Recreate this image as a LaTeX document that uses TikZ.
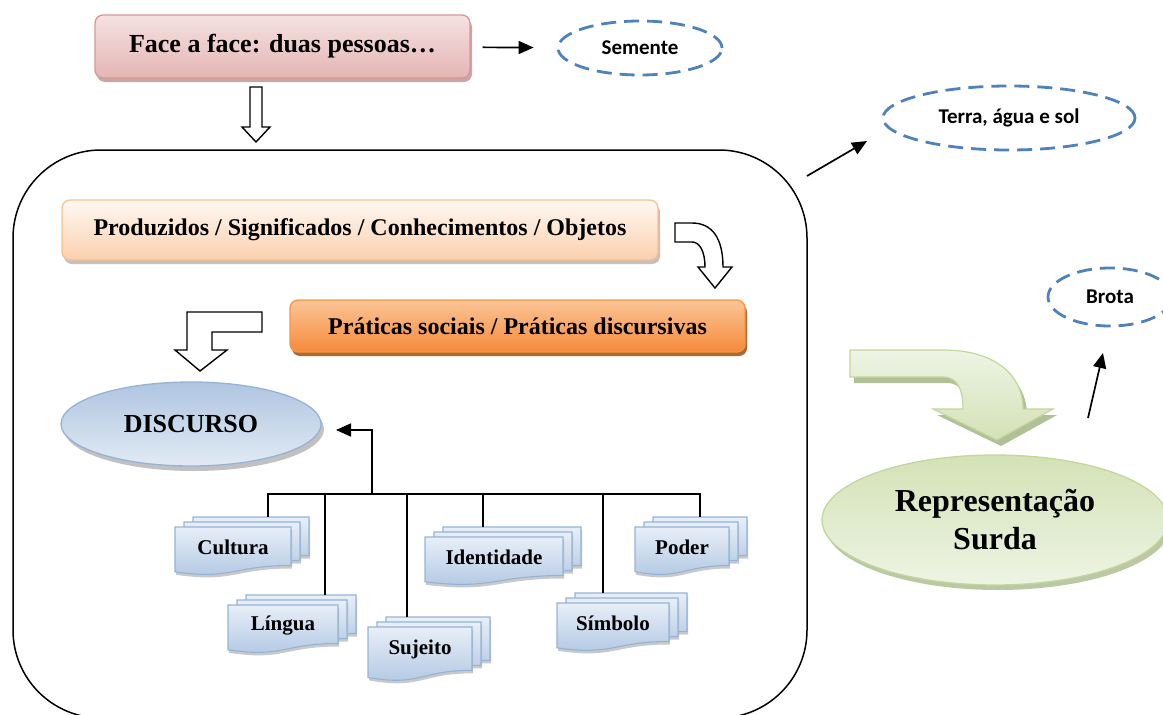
\documentclass[tikz,border=0pt]{standalone}
\usepackage{fontspec}
\setmainfont{Liberation Serif}
\newfontfamily\calib{Carlito}
\usetikzlibrary{shapes.geometric,arrows.meta,shadows}
\definecolor{dashblue}{HTML}{4F81BD}
\definecolor{faceT}{HTML}{F5E2E1}
\definecolor{faceB}{HTML}{E4B5B4}
\definecolor{faceD}{HTML}{D99694}
\definecolor{faceS}{HTML}{B89090}
\definecolor{prodT}{HTML}{FFF8F2}
\definecolor{prodB}{HTML}{FBD0AE}
\definecolor{prodD}{HTML}{FAC090}
\definecolor{pratT}{HTML}{FBC596}
\definecolor{pratB}{HTML}{F58A3A}
\definecolor{pratD}{HTML}{F79646}
\definecolor{pratS}{HTML}{A35A1C}
\definecolor{discT}{HTML}{AFC5E1}
\definecolor{discB}{HTML}{E2EAF4}
\definecolor{discD}{HTML}{95B3D7}
\definecolor{docT}{HTML}{E8EFF8}
\definecolor{docB}{HTML}{AFC6E2}
\definecolor{greenT}{HTML}{EEF4E4}
\definecolor{greenB}{HTML}{D3E2B6}
\definecolor{greenD}{HTML}{C3D69B}
\definecolor{greenS}{HTML}{A9BA8C}

\newcommand\docpage[4]{%
  \pgfmathsetmacro\dpL{#1}%
  \pgfmathsetmacro\dpT{#2}%
  \pgfmathsetmacro\dpR{#1+#3}%
  \pgfmathsetmacro\dpM{#1+0.5*#3}%
  \pgfmathsetmacro\dpYr{#2+0.802*#4}%
  \pgfmathsetmacro\dpYc{#2+1.107*#4}%
  \pgfmathsetmacro\dpYl{#2+0.934*#4}%
  \path[docpg] (\dpL,\dpT) -- (\dpR,\dpT) -- (\dpR,\dpYr) .. controls (\dpM,\dpYr) and (\dpM,\dpYc) .. (\dpL,\dpYl) -- cycle;%
}
\newcommand\docstack[7]{%
  \docpage{#2+18}{#3-10}{#4}{#5}%
  \docpage{#2+9}{#3-5}{#4}{#5}%
  \docpage{#2}{#3}{#4}{#5}%
  \pgfmathsetmacro\dsX{#2+0.5*#4}%
  \pgfmathsetmacro\dsY{#3+0.42*#5}%
  \pgfmathsetmacro\dsT{#3-10}%
  \node[doctext] (#1) at (\dsX,\dsY) {#6};%
  \coordinate (#1-top) at (#7,\dsT);%
}

\tikzset{
  arr/.style={line width=1.7pt, -{Triangle[length=15pt,width=13pt]}},
  tree/.style={line width=1.4pt},
  hollow/.style={draw=black, fill=white, line width=1.4pt, line join=miter},
  dashell/.style={ellipse, draw=dashblue, line width=2.8pt, dash pattern=on 15pt off 8pt, inner sep=0, font=\calib\bfseries\fontsize{21}{24}\selectfont},
  facebox/.style={draw=faceD, line width=1.3pt, rounded corners=8pt, top color=faceT, bottom color=faceB, inner sep=0,
     drop shadow={shadow xshift=2pt, shadow yshift=-4pt, fill=faceS, opacity=0.8},
     font=\bfseries\fontsize{26}{30}\selectfont},
  prodbox/.style={draw=prodD, line width=1.3pt, rounded corners=8pt, top color=prodT, bottom color=prodB, inner sep=0,
     drop shadow={shadow xshift=2pt, shadow yshift=-4pt, fill=black!35, opacity=0.7},
     font=\bfseries\fontsize{24}{28}\selectfont},
  pratbox/.style={draw=pratD, line width=1.3pt, rounded corners=8pt, top color=pratT, bottom color=pratB, inner sep=0,
     drop shadow={shadow xshift=2pt, shadow yshift=-4pt, fill=pratS, opacity=0.9},
     font=\bfseries\fontsize{24}{28}\selectfont},
  discell/.style={ellipse, draw=discD, line width=1.3pt, top color=discT, bottom color=discB, inner sep=0,
     drop shadow={shadow xshift=3pt, shadow yshift=-5pt, fill=black!35, opacity=0.7},
     font=\bfseries\fontsize{26}{30}\selectfont},
  docpg/.style={draw=discD, line width=1.1pt, top color=docT, bottom color=docB,
     drop shadow={shadow xshift=1pt, shadow yshift=-3pt, fill=black!30, opacity=0.7}},
  doctext/.style={inner sep=0, font=\bfseries\fontsize{21}{24}\selectfont},
  reprell/.style={ellipse, draw=greenD, line width=1.3pt, top color=greenB, bottom color=greenT, inner sep=0, align=center,
     drop shadow={shadow xshift=3pt, shadow yshift=-5pt, fill=greenS, opacity=0.8},
     font=\bfseries\fontsize{32}{38}\selectfont},
  greenarrow/.style={draw=greenD, line width=1.2pt, top color=greenT, bottom color=greenB,
     drop shadow={shadow xshift=4pt, shadow yshift=-6pt, fill=greenS, opacity=0.9}},
}

\begin{document}
\begin{tikzpicture}[x=1pt,y=-1pt]
\useasboundingbox (0,0) rectangle (1163,715);

% big frame
\draw[line width=1.5pt, rounded corners=88pt] (13,150) rectangle (807,718);

% top box and semente
\node[facebox, minimum width=375pt, minimum height=63pt] (face) at (282.5,46.5) {Face a face: duas pessoas…};
\node[dashell, minimum width=164pt, minimum height=54pt] (sem) at (640,48) {Semente};
\draw[arr, shorten <=12pt, shorten >=23pt] (face) -- (sem);

% down hollow arrow
\path[hollow] (250,87) -- (262,87) -- (262,127) -- (270,127) -- (256,142) -- (242,127) -- (250,127) -- cycle;

% terra
\node[dashell, minimum width=252pt, minimum height=64pt] (terra) at (1009,118) {Terra, água e sol};
\coordinate (tA) at (807,176);
\coordinate (tB) at (867,141);
\draw[arr] (tA) -- (tB);

% produzidos
\node[prodbox, minimum width=596pt, minimum height=60pt] (prod) at (360,230) {Produzidos / Significados / Conhecimentos / Objetos};
\path[hollow] (675,223) -- (692,223) .. controls (712,223) and (723,238) .. (723,267) -- (732,267) -- (715,288) -- (698,267) -- (705,267) .. controls (705,252) and (700,242) .. (692,242) -- (675,242) -- cycle;

% praticas
\node[pratbox, minimum width=455pt, minimum height=52pt] (prat) at (517.5,326) {Práticas sociais / Práticas discursivas};
\path[hollow] (262,312) -- (262,332) -- (212,332) -- (212,350) -- (227,350) -- (200,371) -- (175,350) -- (187,350) -- (187,312) -- cycle;

% discurso
\node[discell, minimum width=260pt, minimum height=84pt] (disc) at (191,424) {DISCURSO};

% document stacks
\docstack{cul}{175}{527}{116}{48}{Cultura}{268}
\docstack{lin}{228}{605}{110}{48}{Língua}{325}
\docstack{suj}{368}{627}{104}{54}{Sujeito}{407}
\docstack{ide}{425}{537}{138}{48}{Identidade}{483}
\docstack{sim}{557}{603}{112}{48}{Símbolo}{603}
\docstack{pod}{635}{527}{94}{48}{Poder}{700}

% tree
\coordinate (hub) at (372,494);
\coordinate (discin) at (336,430);
\draw[tree] (cul-top) |- (hub) -| (pod-top);
\foreach \n in {lin,suj,ide,sim} \draw[tree] (\n-top) -- (\n-top |- hub);
\draw[arr] (hub) |- (discin);

% right side
\path[greenarrow] (850,350) -- (943,350) .. controls (995,350) and (1023,375) .. (1023,409) -- (1053,409) -- (997,440) -- (933,409) -- (963,409) .. controls (963,390) and (958,377) .. (943,377) -- (850,377) -- cycle;
\node[reprell, minimum width=346pt, minimum height=130pt] (repr) at (995,520) {Representação\\Surda};
\node[dashell, minimum width=124pt, minimum height=58pt] (brota) at (1110,297) {Brota};
\coordinate (bA) at (1088,418);
\coordinate (bB) at (1103,353);
\draw[arr] (bA) -- (bB);
\end{tikzpicture}
\end{document}
